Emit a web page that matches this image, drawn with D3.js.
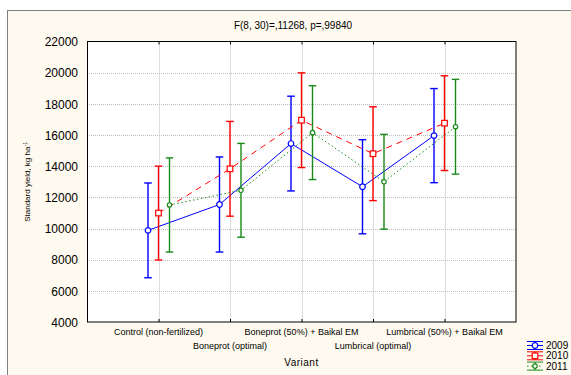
<!DOCTYPE html>
<html>
<head>
<meta charset="utf-8">
<script src="https://cdn.jsdelivr.net/npm/d3@7"></script>
<style>
  body { margin: 0; background: #fff; }
  svg { display: block; font-family: "Liberation Sans", Arial, sans-serif; }
</style>
</head>
<body>
<div id="chart_area"></div>
<script>
// data
var categories = ["Control (non-fertilized)", "Boneprot (optimal)", "Boneprot (50%) + Baikal EM",
                  "Lumbrical (optimal)", "Lumbrical (50%) + Baikal EM"];
var years = ["2009", "2010", "2011"];
var yield2009 = [9880, 11540, 15450, 12680, 15960];
var yield2010 = [10990, 13830, 16950, 14800, 16760];
var yield2011 = [11510, 12450, 16150, 13000, 16530];
// half width of the confidence interval
var ci2009 = [3040, 3050, 3040, 3020, 3020];
var ci2010 = [3010, 3040, 3040, 3010, 3040];
var ci2011 = [3020, 3010, 3010, 3040, 3040];
var yTicks = [4000, 6000, 8000, 10000, 12000, 14000, 16000, 18000, 20000, 22000];
var title = "F(8, 30)=,11268, p=,99840";

var width = 571, height = 375;
var plot = { left: 87, right: 516, top: 41.5, bottom: 322 };

var series = [
    { name: years[0], values: yield2009, ci: ci2009, color: "#0000ff", dash: null, off: -10.5, marker: "circle" },
    { name: years[1], values: yield2010, ci: ci2010, color: "#ff0000", dash: "6,5", off: 0, marker: "square" },
    { name: years[2], values: yield2011, ci: ci2011, color: "#188a18", dash: "1.5,2.5", off: 11, marker: "small" }
];

var svg = d3.select("#chart_area")
    .append("svg")
    .attr("width", width)
    .attr("height", height);

// outer cream frame
svg.append("rect")
    .attr("x", 7.5).attr("y", 10.5)
    .attr("width", 600).attr("height", 400)
    .style("fill", "#fffaef")
    .style("stroke", "#808080")
    .style("stroke-width", 1);

var x = d3.scaleLinear().domain([0, categories.length + 1]).range([plot.left, plot.right]);
var y = d3.scaleLinear().domain([4000, 22000]).range([plot.bottom, plot.top]);

// plot background
svg.append("rect")
    .attr("x", plot.left).attr("y", plot.top)
    .attr("width", plot.right - plot.left).attr("height", plot.bottom - plot.top)
    .style("fill", "#fff");

// grid
var grid = svg.append("g").attr("class", "grid");
grid.selectAll("line.h")
    .data(yTicks.slice(1, -1))
    .enter().append("line")
    .attr("x1", plot.left).attr("x2", plot.right)
    .attr("y1", function (d) { return Math.round(y(d)) + 0.5; })
    .attr("y2", function (d) { return Math.round(y(d)) + 0.5; })
    .style("stroke", "#bdbdbd")
    .style("stroke-dasharray", "1,1");
grid.selectAll("line.v")
    .data(categories)
    .enter().append("line")
    .attr("x1", function (d, i) { return Math.round(x(i + 1)) + 0.5; })
    .attr("x2", function (d, i) { return Math.round(x(i + 1)) + 0.5; })
    .attr("y1", plot.top).attr("y2", plot.bottom)
    .style("stroke", "#bdbdbd")
    .style("stroke-dasharray", "1,1");

// y axis
var yAxis = d3.axisLeft(y).tickValues(yTicks).tickSize(0).tickPadding(9).tickFormat(d3.format("d"));
var gy = svg.append("g")
    .attr("transform", "translate(" + plot.left + ",0)")
    .call(yAxis);
gy.select(".domain").remove();
gy.selectAll(".tick text").style("font-size", "12px").style("fill", "#000")
    .attr("dy", "0.36em");

// x axis ticks on bottom and top
var xAxis = d3.axisBottom(x).tickValues(d3.range(1, categories.length + 1)).tickSize(3).tickFormat("");
var gx = svg.append("g").attr("transform", "translate(0," + plot.bottom + ")").call(xAxis);
gx.select(".domain").remove();
gx.selectAll(".tick line").style("stroke", "#000").attr("y2", -3);
var gxt = svg.append("g").attr("transform", "translate(0," + plot.top + ")").call(xAxis);
gxt.select(".domain").remove();
gxt.selectAll(".tick line").style("stroke", "#000");

// category labels, staggered
svg.append("g").selectAll("text")
    .data(categories)
    .enter().append("text")
    .attr("x", function (d, i) { return x(i + 1); })
    .attr("y", function (d, i) { return i % 2 === 0 ? 335 : 349; })
    .attr("text-anchor", "middle")
    .style("font-size", "9px")
    .text(function (d) { return d; });

svg.append("text")
    .attr("x", x(3)).attr("y", 366)
    .attr("text-anchor", "middle")
    .style("font-size", "10px")
    .style("letter-spacing", "0.5px")
    .text("Variant");

var ylab = svg.append("text")
    .attr("transform", "translate(30," + (plot.top + plot.bottom) / 2 + ") rotate(-90)")
    .attr("text-anchor", "middle")
    .style("font-size", "8px");
ylab.append("tspan").text("Standard yield, kg ha");
ylab.append("tspan").attr("dy", "-3").style("font-size", "5.5px").text("-1");

svg.append("text")
    .attr("x", 293).attr("y", 28.5)
    .attr("text-anchor", "middle")
    .style("font-size", "10px")
    .text(title);

// lines
var line = d3.line()
    .x(function (d) { return d.x; })
    .y(function (d) { return d.y; });

series.forEach(function (s) {
    var pts = s.values.map(function (v, i) { return { x: x(i + 1) + s.off, y: y(v), v: v, ci: s.ci[i] }; });
    var g = svg.append("g");
    g.append("path")
        .datum(pts)
        .attr("d", line)
        .style("fill", "none")
        .style("stroke", s.color)
        .style("stroke-width", 1)
        .style("stroke-dasharray", s.dash);

    // error bars
    var eb = g.selectAll("g.eb").data(pts).enter().append("g");
    eb.append("line")
        .attr("x1", function (d) { return d.x; }).attr("x2", function (d) { return d.x; })
        .attr("y1", function (d) { return y(d.v + d.ci); })
        .attr("y2", function (d) { return y(d.v - d.ci); })
        .style("stroke", s.color).style("stroke-width", 1.4);
    [1, -1].forEach(function (sign) {
        eb.append("line")
            .attr("x1", function (d) { return d.x - 3.8; }).attr("x2", function (d) { return d.x + 3.8; })
            .attr("y1", function (d) { return y(d.v + sign * d.ci); })
            .attr("y2", function (d) { return y(d.v + sign * d.ci); })
            .style("stroke", s.color).style("stroke-width", 1.4);
    });

    // markers
    drawMarker(g.selectAll("g.m").data(pts).enter().append("g")
        .attr("transform", function (d) { return "translate(" + d.x + "," + d.y + ")"; }), s);
});

function drawMarker(sel, s) {
    if (s.marker === "square") {
        sel.append("rect").attr("x", -2.8).attr("y", -2.8).attr("width", 5.6).attr("height", 5.6)
            .style("fill", "#fff").style("stroke", s.color).style("stroke-width", 1.2);
    } else {
        sel.append("circle").attr("r", s.marker === "small" ? 2.2 : 2.8)
            .style("fill", "#fff").style("stroke", s.color).style("stroke-width", 1.2);
    }
}

// legend
var legend = svg.append("g").selectAll("g")
    .data(series)
    .enter().append("g")
    .attr("transform", function (d, i) { return "translate(527," + (345.5 + i * 10.3) + ")"; });
legend.each(function (s) {
    var g = d3.select(this);
    [-4, 4].forEach(function (dy) {
        g.append("line").attr("x1", 0).attr("x2", 16).attr("y1", dy).attr("y2", dy)
            .style("stroke", s.color).style("stroke-width", 1);
    });
    g.append("line").attr("x1", 8).attr("x2", 8).attr("y1", -4).attr("y2", 4)
        .style("stroke", s.color).style("stroke-width", 1);
    g.append("line").attr("x1", 0).attr("x2", 16).attr("y1", 0).attr("y2", 0)
        .style("stroke", s.color).style("stroke-width", 1).style("stroke-dasharray", s.dash);
    drawMarker(g.append("g").attr("transform", "translate(8,0)"), s);
    g.append("text").attr("x", 19).attr("y", 0).attr("dy", "0.35em")
        .style("font-size", "10px").text(s.name);
});

// plot border on top
svg.append("rect")
    .attr("x", plot.left + 0.5).attr("y", plot.top)
    .attr("width", plot.right - plot.left - 0.5).attr("height", plot.bottom - plot.top)
    .style("fill", "none")
    .style("stroke", "#000")
    .style("stroke-width", 1);
</script>
</body>
</html>
